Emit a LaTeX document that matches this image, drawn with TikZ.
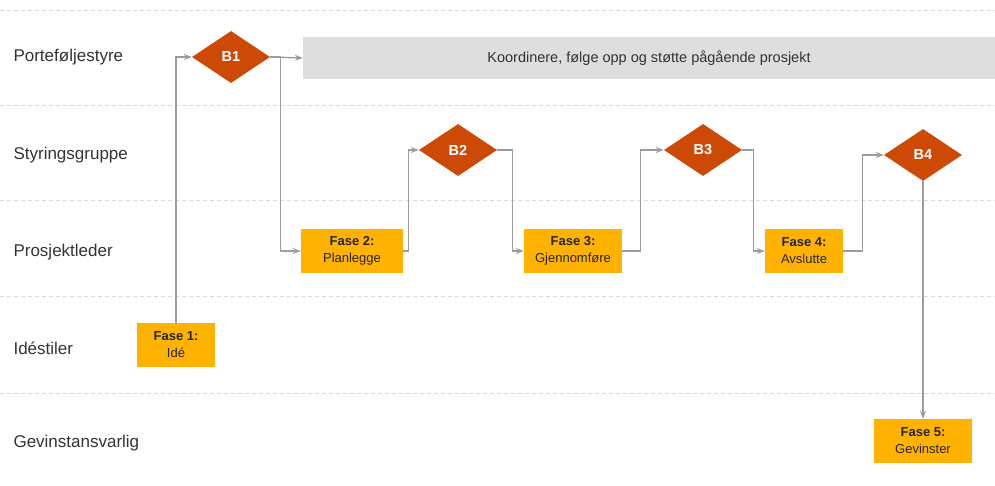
\documentclass[tikz,border=0pt]{standalone}
\usepackage{fontspec}
\setmainfont{Liberation Sans}
\usetikzlibrary{positioning,arrows.meta,shapes.geometric}
\definecolor{gate}{HTML}{CC4A06}
\definecolor{phase}{HTML}{FFB300}
\definecolor{band}{HTML}{DEDEDE}
\definecolor{wire}{HTML}{9C9C9C}
\definecolor{lanerule}{HTML}{D8D8D8}
\definecolor{ink}{HTML}{333333}
\tikzset{
  gatebox/.style={diamond,fill=gate,text=white,inner sep=0pt,
    minimum width=78pt,minimum height=52pt,
    font=\fontsize{14.5}{16}\selectfont\bfseries},
  phasebox/.style={fill=phase,text=black!85,align=center,inner sep=0pt,
    minimum height=44pt,font=\fontsize{13}{17}\selectfont},
  lanelabel/.style={anchor=west,text=ink,font=\fontsize{17}{20}\selectfont},
  flow/.style={draw=wire,line width=1.4pt,-{Stealth[length=8pt,width=6pt]}}
}

\begin{document}
\begin{tikzpicture}[x=1pt,y=-1pt]
  \useasboundingbox (0,0) rectangle (995,485);
  % swimlane rules and names
  \foreach \y in {10,105,200,296,393}
    \draw[lanerule,line width=0.8pt,dash pattern=on 4pt off 3pt] (0,\y) -- (995,\y);
  \foreach \name/\y/\txt in {portf/57/Porteføljestyre,styr/155/Styringsgruppe,
      pl/252/Prosjektleder,ide/348/Idéstiler,gev/443/Gevinstansvarlig}
    \node[lanelabel] (\name) at (10,\y) {\txt};

  % portfolio band
  \node[fill=band,minimum width=692pt,minimum height=42pt,inner sep=0pt,
    font=\fontsize{14.5}{16}\selectfont,text=ink] (info) at (649,58)
    {Koordinere, følge opp og støtte pågående prosjekt};

  % decision gates
  \node[gatebox] (b1) at (231,57) {B1};
  \node[gatebox] (b2) at (458,150) {B2};
  \node[gatebox] (b3) at (703,150) {B3};
  \node[gatebox] (b4) at (923,155) {B4};

  % phases
  \node[phasebox,minimum width=78pt] (f1) at (176,345) {\textbf{Fase 1:}\\Idé};
  \node[phasebox,minimum width=102pt] (f2) at (352,251) {\textbf{Fase 2:}\\Planlegge};
  \node[phasebox,minimum width=98pt] (f3) at (573,251) {\textbf{Fase 3:}\\Gjennomføre};
  \node[phasebox,minimum width=78pt] (f4) at (804,251) {\textbf{Fase 4:}\\Avslutte};
  \node[phasebox,minimum width=98pt] (f5) at (923,441) {\textbf{Fase 5:}\\Gevinster};

  % connectors
  \draw[flow] (f1.north) |- (b1.west);
  \draw[flow] (b1.east) -- (info.west);
  \draw[flow] (b1.east) -- ++(10,0) |- (f2.west);
  \draw[flow] (f2.east) -- ++(5,0) |- (b2.west);
  \draw[flow] (b2.east) -- ++(15,0) |- (f3.west);
  \draw[flow] (f3.east) -- ++(18,0) |- (b3.west);
  \draw[flow] (b3.east) -- ++(11,0) |- (f4.west);
  \draw[flow] (f4.east) -- ++(19,0) |- (b4.west);
  \draw[flow] (b4.south) -- (f5.north);
\end{tikzpicture}
\end{document}
